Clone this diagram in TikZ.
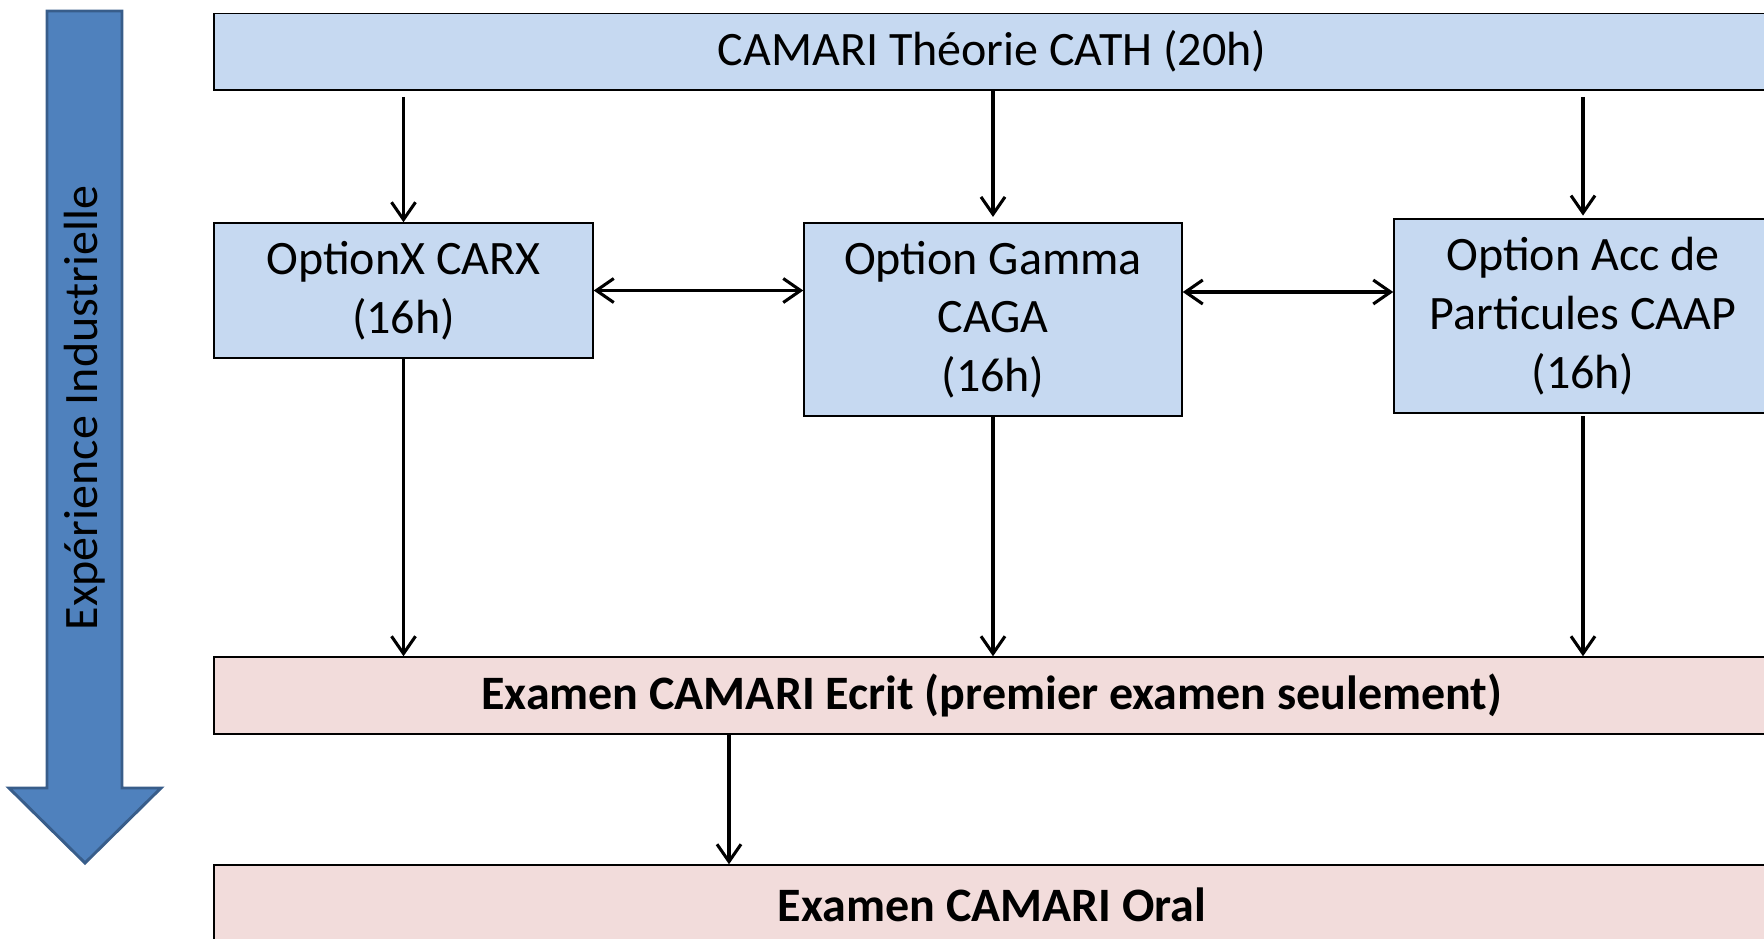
\documentclass[tikz,border=0pt]{standalone}
\usepackage{fontspec}
\setmainfont{Carlito}
\usetikzlibrary{arrows.meta}
\definecolor{boxblue}{HTML}{C6D9F1}
\definecolor{boxpink}{HTML}{F2DCDB}
\definecolor{bigfill}{HTML}{4F81BD}
\definecolor{bigline}{HTML}{385D8A}
\tikzset{
  stagebox/.style={draw=black, line width=1.1pt, inner sep=0pt, align=center,
    font=\fontsize{36}{44}\selectfont},
  bluebox/.style={stagebox, fill=boxblue},
  pinkbox/.style={stagebox, fill=boxpink, font=\fontsize{36}{44}\selectfont\bfseries},
  barb/.tip={Straight Barb[length=13pt, width=18pt, line width=2.3pt]},
  conn/.style={line width=2.3pt, -barb},
  biconn/.style={line width=2.3pt, barb-barb}
}
\begin{document}
\begin{tikzpicture}[x=0.75pt, y=-0.75pt]
\useasboundingbox (0,0) rectangle (1764,939);

% timeline arrow on the left
\draw[fill=bigfill, draw=bigline, line width=2.2pt, line join=miter]
  (47,11) -- (122,11) -- (122,788) -- (161,788) -- (85,863) -- (9,788) -- (47,788) -- cycle;
\node[rotate=90, font=\fontsize{36}{40}\selectfont] (exp) at (85,408) {Expérience Industrielle};

% stages
\node[bluebox, minimum width=1167pt, minimum height=57.4pt] (theory) at (992,51.75) {CAMARI Théorie CATH (20h)};
\node[bluebox, minimum width=284.25pt, minimum height=101.25pt] (carx) at (403.5,290.5) {OptionX CARX\\(16h)};
\node[bluebox, minimum width=283.5pt, minimum height=144.75pt] (caga) at (993,319.5) {Option Gamma\\CAGA\\(16h)};
\node[bluebox, minimum width=283.5pt, minimum height=145.5pt] (caap) at (1583,316) {Option Acc de\\Particules CAAP\\(16h)};
\node[pinkbox, minimum width=1167pt, minimum height=57.75pt] (written) at (992,695.5) {Examen CAMARI Ecrit (premier examen seulement)};
\node[pinkbox, minimum width=1167pt, minimum height=60pt] (oral) at (992,905) {Examen CAMARI Oral};

% connectors
\draw[conn, shorten <=4.5pt] (theory.south -| carx.north) -- (carx.north);
\draw[conn, shorten >=4pt] (theory.south -| caga.north) -- (caga.north);
\draw[conn, shorten <=4.5pt, shorten >=2pt] (theory.south -| caap.north) -- (caap.north);
\draw[biconn] (carx.east) -- (caga.west |- carx.east);
\draw[biconn] (caga.east |- 0,292) -- (caap.west |- 0,292);
\draw[conn] (carx.south) -- (written.north -| carx.south);
\draw[conn] (caga.south) -- (written.north -| caga.south);
\draw[conn, shorten <=2pt] (caap.south) -- (written.north -| caap.south);
\draw[conn] (written.south -| 729,0) -- (oral.north -| 729,0);
\end{tikzpicture}
\end{document}
